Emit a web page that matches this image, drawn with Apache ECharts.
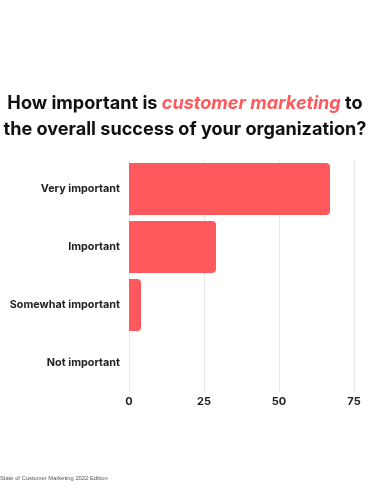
<!DOCTYPE html>
<html>
<head>
<meta charset="utf-8">
<script src="https://cdn.jsdelivr.net/npm/echarts@6/dist/echarts.min.js"></script>
<style>html,body{margin:0;padding:0;background:#fff;}#c{width:370px;height:490px;}</style>
</head>
<body>
<div id="c"></div>
<script>
const categories = ['Very important', 'Important', 'Somewhat important', 'Not important'];
const values = [67, 29, 4, 0];
const xTicks = [0, 25, 50, 75];
const titleLine1 = ['How important is ', 'customer marketing', ' to'];
const titleLine2 = 'the overall success of your organization?';
const sourceText = 'State of Customer Marketing 2022 Edition';

const RED = '#ff585d';
const chart = echarts.init(document.getElementById('c'), null, {renderer: 'canvas'});
chart.setOption({
  backgroundColor: '#ffffff',
  animation: false,
  title: [{
    text: '{b|' + titleLine1[0] + '}{r|' + titleLine1[1] + '}{b|' + titleLine1[2] + '}\n{b|' + titleLine2 + '}',
    left: 'center',
    top: 86,
    textStyle: {
      rich: {
        b: {fontFamily: 'Inter', fontWeight: 'bold', fontSize: 18.1, color: '#111111', lineHeight: 26},
        r: {fontFamily: 'Inter', fontWeight: 'bold', fontStyle: 'italic', fontSize: 18.1, color: RED, lineHeight: 26}
      }
    }
  }, {
    text: sourceText,
    left: 0,
    top: 475,
    padding: 0,
    textStyle: {fontFamily: 'Liberation Sans', fontWeight: 'normal', fontSize: 5.8, color: '#555555'}
  }],
  grid: {left: 129, right: 16, top: 160, height: 232, containLabel: false},
  xAxis: {
    type: 'value',
    min: 0, max: 75, interval: 25,
    axisLine: {show: false},
    axisTick: {show: false},
    splitLine: {show: true, lineStyle: {color: '#e8e8e8', width: 1}},
    axisLabel: {
      margin: 4,
      fontFamily: 'Inter', fontWeight: 'bold', fontSize: 11, color: '#222222',
      formatter: function (v) { return xTicks.indexOf(v) >= 0 ? String(v) : ''; }
    }
  },
  yAxis: {
    type: 'category',
    inverse: true,
    data: categories,
    axisLine: {show: false},
    axisTick: {show: false},
    axisLabel: {margin: 9, fontFamily: 'Inter', fontWeight: 'bold', fontSize: 10.8, color: '#222222'}
  },
  series: [{
    type: 'bar',
    data: values,
    barWidth: 52,
    itemStyle: {color: RED, borderRadius: [0, 4, 4, 0]}
  }]
});
</script>
</body>
</html>
